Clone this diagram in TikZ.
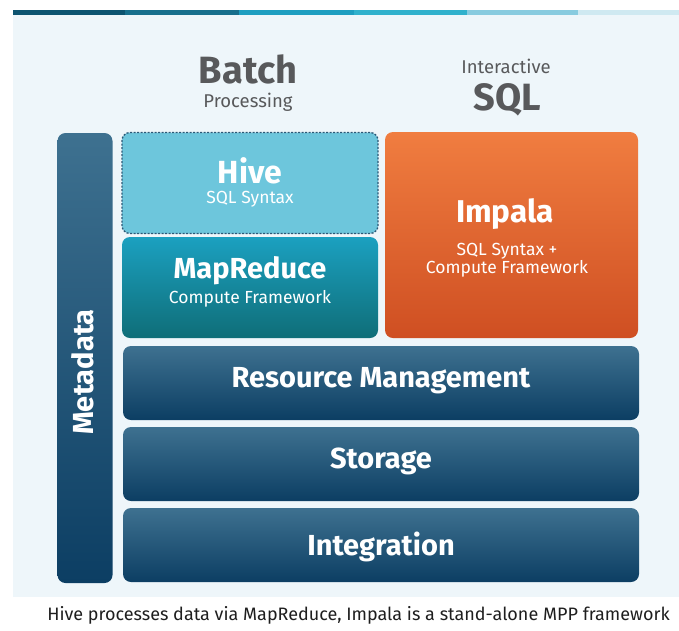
\documentclass[tikz,border=0pt]{standalone}
\usepackage{fontspec}
\setmainfont{Fira Sans}
\usepackage{tikz}
\usetikzlibrary{positioning,calc}
\definecolor{panelbg}{HTML}{EEF6FA}
\definecolor{stripA}{HTML}{0D5470}
\definecolor{stripB}{HTML}{176F8C}
\definecolor{stripC}{HTML}{1E9EC0}
\definecolor{stripD}{HTML}{30B1CC}
\definecolor{stripE}{HTML}{88CBDF}
\definecolor{stripF}{HTML}{CFE9F1}
\definecolor{headgray}{HTML}{58595B}
\definecolor{darktop}{HTML}{3E7190}
\definecolor{darkbottom}{HTML}{0C3E63}
\definecolor{hivefill}{HTML}{6DC6DC}
\definecolor{hiveline}{HTML}{2B5876}
\definecolor{mrtop}{HTML}{1BA0C0}
\definecolor{mrbottom}{HTML}{0F6E78}
\definecolor{imptop}{HTML}{F07D40}
\definecolor{impmid}{HTML}{EA5C1C}
\definecolor{impbottom}{HTML}{CF4F22}
\definecolor{captiontext}{HTML}{1E1E1E}
\tikzset{
    box/.style = {rounded corners=8pt, inner sep=0pt},
    layer/.style = {box, minimum width=516pt, minimum height=74pt,
        top color=darktop, bottom color=darkbottom},
    hivebox/.style = {box, minimum width=256pt, minimum height=101pt,
        fill=hivefill, draw=hiveline, line width=1.3pt, dash pattern=on 2pt off 1.5pt},
    mrbox/.style = {box, minimum width=256pt, minimum height=101pt,
        top color=mrtop, bottom color=mrbottom},
    impbox/.style = {box, minimum width=253pt, minimum height=206pt,
        top color=imptop, middle color=impmid, bottom color=impbottom},
    metabox/.style = {box, minimum width=55pt, minimum height=450pt,
        top color=darktop, bottom color=darkbottom},
    headbig/.style = {anchor=base, inner sep=0pt, text=headgray,
        font=\bfseries\fontsize{38}{40}\selectfont},
    headsmall/.style = {anchor=base, inner sep=0pt, text=headgray,
        font=\fontsize{18.5}{20}\selectfont},
    boxtitle/.style = {anchor=base, inner sep=0pt, text=white,
        font=\bfseries\fontsize{32}{34}\selectfont},
    boxsub/.style = {anchor=base, inner sep=0pt, text=white,
        font=\fontsize{17.5}{19}\selectfont},
    layertitle/.style = {anchor=base, inner sep=0pt, text=white,
        font=\bfseries\fontsize{29}{31}\selectfont}
}
\begin{document}
\begin{tikzpicture}[x=1pt,y=-1pt]
    \useasboundingbox (0,0) rectangle (679,630);
    % Background panel and coloured strip on top
    \fill[panelbg] (13,15) rectangle (679,597);
    \foreach \xa/\xb/\col in {13/125/stripA,125/239/stripB,239/354/stripC,354/467/stripD,467/578/stripE,578/679/stripF}
        \fill[\col] (\xa,10) rectangle (\xb,15);
    % Column headings
    \node[headbig] (batch) at (248,83) {Batch};
    \node[headsmall] (processing) at (248,107) {Processing};
    \node[headsmall] (interactive) at (506,73) {Interactive};
    \node[headbig] (sql) at (507,110) {SQL};
    % The boxes
    \node[metabox] (metadata) at (85,358) {};
    \node[hivebox] (hive) at (250,183) {};
    \node[mrbox] (mapreduce) at (250,287.5) {};
    \node[impbox] (impala) at (511.5,235) {};
    \node[layer] (resource) at (381,383) {};
    \node[layer] (storage) at (381,464) {};
    \node[layer] (integration) at (381,545) {};
    % Labels of the boxes
    \node[boxtitle] (hivetitle) at (250,183) {Hive};
    \node[boxsub] (hivesub) at (250,203) {SQL Syntax};
    \node[boxtitle,font=\bfseries\fontsize{29}{31}\selectfont] (mrtitle) at (250,278) {MapReduce};
    \node[boxsub] (mrsub) at (250,303) {Compute Framework};
    \node[boxtitle,font=\bfseries\fontsize{31.5}{33}\selectfont] (imptitle) at (505,222) {Impala};
    \node[boxsub] (impsubA) at (507,255) {SQL Syntax +};
    \node[boxsub] (impsubB) at (507,273) {Compute Framework};
    \node[layertitle] (resourcetitle) at (381,387) {Resource Management};
    \node[layertitle] (storagetitle) at (381,468) {Storage};
    \node[layertitle] (integrationtitle) at (381,555) {Integration};
    \node[layertitle,rotate=90] (metatitle) at (93,372) {Metadata};
    % Caption
    \node[anchor=base, inner sep=0pt, text=captiontext, font=\fontsize{18}{20}\selectfont] (caption) at (358.5,620)
        {Hive processes data via MapReduce, Impala is a stand-alone MPP framework};
\end{tikzpicture}
\end{document}
